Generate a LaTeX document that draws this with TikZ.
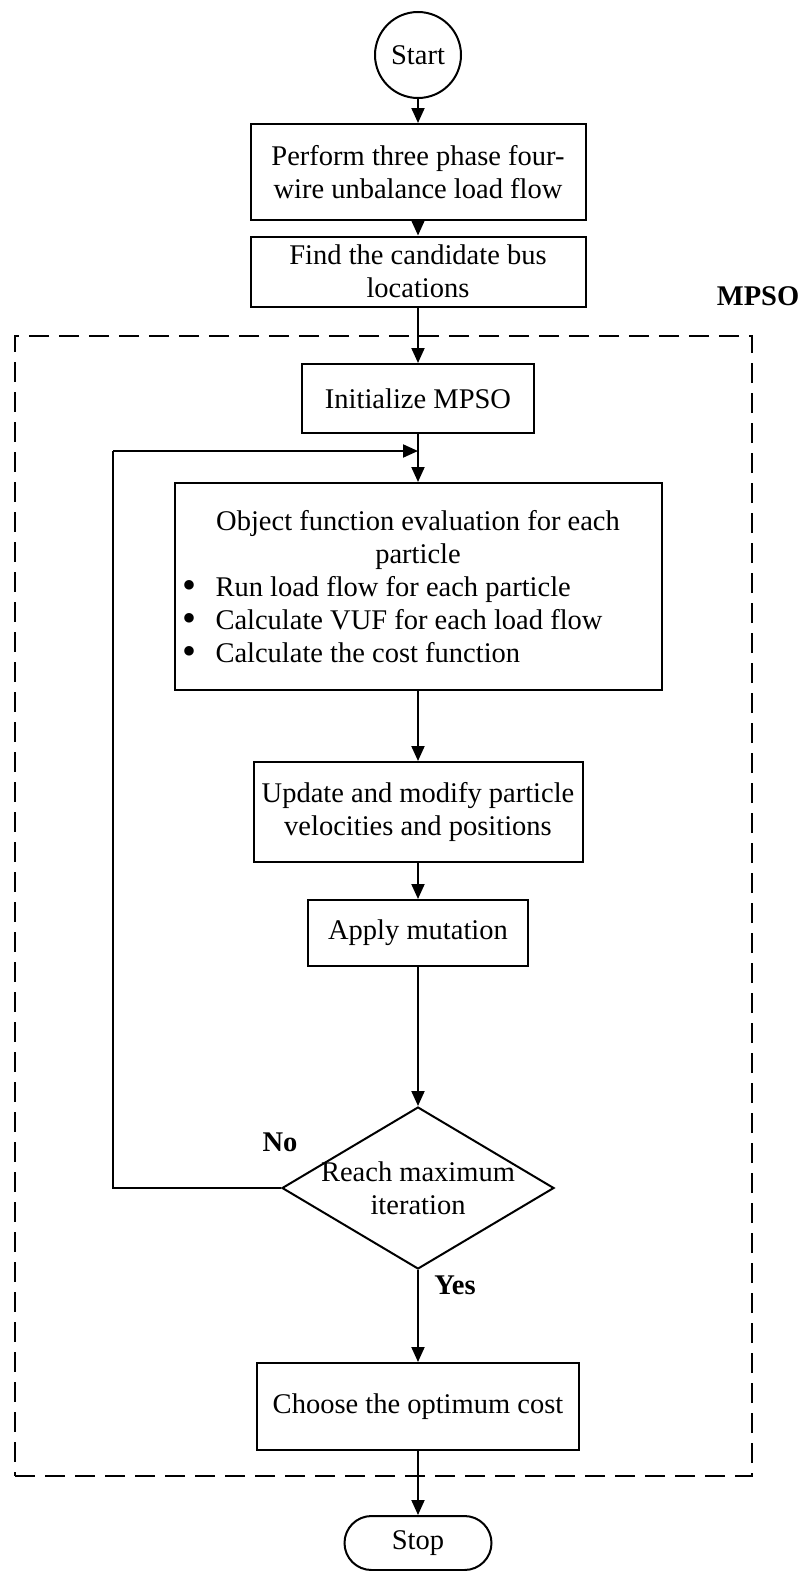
\documentclass[tikz,border=0pt]{standalone}
\usepackage{fontspec}
\setmainfont{Liberation Serif}
\usetikzlibrary{shapes.geometric,arrows.meta}
\newcommand{\bigdot}{\smash{\raisebox{-0.08em}{\scalebox{1.4}{\textbullet}}}}
\begin{document}
\begin{tikzpicture}[x=1pt,y=-1pt,
  every node/.style={font=\fontsize{28.5}{33}\selectfont},
  stepbox/.style={draw, line width=2pt, rectangle, inner sep=0pt, align=center},
  flow/.style={draw, line width=2pt, -{Triangle[length=15pt,width=13pt]}},
  wire/.style={draw, line width=2pt},
  tag/.style={font=\fontsize{28.5}{33}\selectfont\bfseries, inner sep=0pt},
  frame/.style={draw, line width=2pt, dash pattern=on 20pt off 10pt, rectangle, inner sep=0pt}]
\useasboundingbox (0,0) rectangle (810,1571);

% dashed region of the MPSO loop
\node[frame, minimum width=737pt, minimum height=1140pt] (region) at (383.5,906) {};
\node[tag] (regionlbl) at (758,296) {MPSO};

% main chain of steps
\node[draw, circle, line width=2pt, minimum size=86pt, inner sep=0pt] (start) at (418,55) {Start};
\node[stepbox, minimum width=335pt, minimum height=96pt] (loadflow) at (418,172)
  {Perform three phase four-\\wire unbalance load flow};
\node[stepbox, minimum width=335pt, minimum height=70pt] (candidates) at (418,271.5)
  {Find the candidate bus\\locations};
\node[stepbox, minimum width=232pt, minimum height=69pt] (init) at (418,398.5)
  {Initialize MPSO};
\node[stepbox, minimum width=487pt, minimum height=207pt] (eval) at (418,586.5)
  {Object function evaluation for each\\particle\\
   \makebox[471pt][l]{\makebox[33pt][l]{\bigdot}Run load flow for each particle}\\
   \makebox[471pt][l]{\makebox[33pt][l]{\bigdot}Calculate VUF for each load flow}\\
   \makebox[471pt][l]{\makebox[33pt][l]{\bigdot}Calculate the cost function}};
\node[stepbox, minimum width=329pt, minimum height=100pt] (update) at (418,812)
  {Update and modify particle\\velocities and positions};
\node[stepbox, minimum width=220pt, minimum height=66pt] (mutate) at (418,933)
  {Apply mutation};
\node[draw, diamond, line width=2pt, minimum width=272pt, minimum height=162pt, inner sep=0pt] (check) at (418,1188) {};
\node[align=center, inner sep=0pt] (checktext) at (418,1188.5) {Reach maximum\\iteration};
\node[stepbox, minimum width=322pt, minimum height=87pt] (choose) at (418,1406.5)
  {Choose the optimum cost};
\node[draw, rectangle, rounded corners=27pt, line width=2pt, minimum width=147pt, minimum height=54pt, inner sep=0pt] (stop) at (418,1543) {Stop};

% branch labels
\node[tag] (nolbl) at (280,1142) {No};
\node[tag] (yeslbl) at (455,1285) {Yes};

% connectors
\draw[flow] (start) -- (loadflow);
\draw[flow] (loadflow) -- (candidates);
\draw[flow] (candidates) -- (init);
\draw[flow] (init) -- (eval);
\draw[flow] (eval) -- (update);
\draw[flow] (update) -- (mutate);
\draw[flow] (mutate) -- (check);
\draw[flow] (check.south) -- (choose);
\draw[flow] (choose) -- (stop);

% return path when the iteration limit is not reached
\coordinate (backlow) at (113,1188);
\coordinate (backhigh) at (113,451);
\coordinate (rejoin) at (418,451);
\draw[wire] (check.west) -- (backlow) -- (backhigh);
\draw[flow] (backhigh) -- (rejoin);
\end{tikzpicture}
\end{document}
